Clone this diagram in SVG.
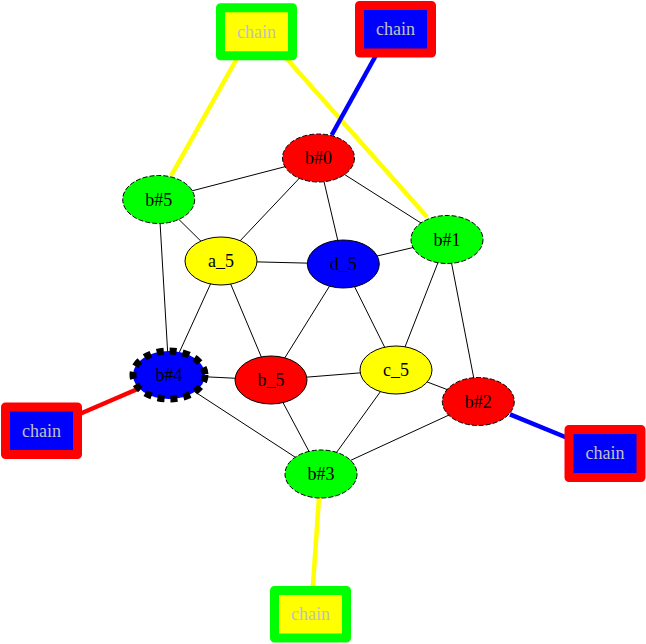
<svg xmlns="http://www.w3.org/2000/svg" width="646" height="644" viewBox="0 0 646 644">
<style>
.e{stroke:#000;stroke-width:1;fill:none}
.t{font-family:"Liberation Serif","Times New Roman",serif;font-size:18px;text-anchor:middle;fill:#000}
.ct{font-family:"Liberation Serif","Times New Roman",serif;font-size:18px;text-anchor:middle;fill:#c0c0c0}
.n{stroke:#000;stroke-width:1}
.d{stroke:#000;stroke-width:1;stroke-dasharray:5,2}
.cb{stroke-width:9;stroke-linejoin:round}
</style>
<rect width="646" height="644" fill="#fff"/>
<g id="edges">
<line class="e" x1="318.5" y1="158" x2="158.7" y2="199.5"/>
<line class="e" x1="318.5" y1="158" x2="221" y2="261"/>
<line class="e" x1="318.5" y1="158" x2="343.3" y2="264"/>
<line class="e" x1="318.5" y1="158" x2="447" y2="239.5"/>
<line class="e" x1="158.7" y1="199.5" x2="221" y2="261"/>
<line class="e" x1="158.7" y1="199.5" x2="169" y2="375"/>
<line class="e" x1="221" y1="261" x2="343.3" y2="264"/>
<line class="e" x1="221" y1="261" x2="169" y2="375"/>
<line class="e" x1="221" y1="261" x2="271" y2="380"/>
<line class="e" x1="343.3" y1="264" x2="447" y2="239.5"/>
<line class="e" x1="343.3" y1="264" x2="271" y2="380"/>
<line class="e" x1="343.3" y1="264" x2="396" y2="370"/>
<line class="e" x1="447" y1="239.5" x2="396" y2="370"/>
<line class="e" x1="447" y1="239.5" x2="478.3" y2="401.5"/>
<line class="e" x1="169" y1="375" x2="271" y2="380"/>
<line class="e" x1="169" y1="375" x2="321" y2="474"/>
<line class="e" x1="271" y1="380" x2="396" y2="370"/>
<line class="e" x1="271" y1="380" x2="321" y2="474"/>
<line class="e" x1="396" y1="370" x2="321" y2="474"/>
<line class="e" x1="396" y1="370" x2="478.3" y2="401.5"/>
<line class="e" x1="478.3" y1="401.5" x2="321" y2="474"/>
<line x1="241.7" y1="50" x2="171" y2="176" stroke="#ffff00" stroke-width="4.5"/>
<line x1="279" y1="50" x2="427.3" y2="217.3" stroke="#ffff00" stroke-width="4.5"/>
<line x1="380" y1="48" x2="331.7" y2="135" stroke="#0000ff" stroke-width="4.5"/>
<line x1="75" y1="416" x2="139.3" y2="388.3" stroke="#ff0000" stroke-width="4.5"/>
<line x1="510" y1="414.3" x2="575" y2="441" stroke="#0000ff" stroke-width="4.5"/>
<line x1="319" y1="497.7" x2="312.3" y2="595" stroke="#ffff00" stroke-width="4.5"/>
</g>
<g id="chain_tl">
<rect class="cb" x="220.5" y="7.8" width="72" height="48" fill="#ffff00" stroke="#00ff00"/>
<text class="ct" x="256.5" y="37.5">chain</text>
</g>
<g id="chain_tr">
<rect class="cb" x="359.5" y="5.5" width="72" height="47.5" fill="#0000ff" stroke="#ff0000"/>
<text class="ct" x="395.5" y="35">chain</text>
</g>
<g id="chain_l">
<rect class="cb" x="5.5" y="407" width="72" height="47.5" fill="#0000ff" stroke="#ff0000"/>
<text class="ct" x="41.5" y="436.5">chain</text>
</g>
<g id="chain_r">
<rect class="cb" x="569" y="429.5" width="72" height="48" fill="#0000ff" stroke="#ff0000"/>
<text class="ct" x="605" y="459">chain</text>
</g>
<g id="chain_b">
<rect class="cb" x="274.5" y="590.5" width="72" height="47.5" fill="#ffff00" stroke="#00ff00"/>
<text class="ct" x="310.5" y="620">chain</text>
</g>
<g id="b0">
<ellipse class="d" cx="318.5" cy="158" rx="36" ry="24" fill="#ff0000"/>
<text class="t" x="318.5" y="164">b#0</text>
</g>
<g id="b5">
<ellipse class="d" cx="158.7" cy="199.5" rx="36" ry="24" fill="#00ff00"/>
<text class="t" x="158.7" y="205.5">b#5</text>
</g>
<g id="a5">
<ellipse class="n" cx="221" cy="261" rx="36" ry="24" fill="#ffff00"/>
<text class="t" x="221" y="267">a_5</text>
</g>
<g id="d5">
<ellipse class="n" cx="343.3" cy="264" rx="36" ry="24" fill="#0000ff"/>
<text class="t" x="343.3" y="270">d_5</text>
</g>
<g id="b1">
<ellipse class="d" cx="447" cy="239.5" rx="36" ry="24" fill="#00ff00"/>
<text class="t" x="447" y="245.5">b#1</text>
</g>
<g id="c5">
<ellipse class="n" cx="396" cy="370" rx="36" ry="24" fill="#ffff00"/>
<text class="t" x="396" y="376">c_5</text>
</g>
<g id="b2">
<ellipse class="d" cx="478.3" cy="401.5" rx="36" ry="24" fill="#ff0000"/>
<text class="t" x="478.3" y="407.5">b#2</text>
</g>
<g id="b4">
<ellipse cx="169" cy="375" rx="36" ry="24" fill="#0000ff" stroke="#000" stroke-width="7" stroke-dasharray="7,6"/>
<text class="t" x="169" y="381">b#4</text>
</g>
<g id="b_5">
<ellipse class="n" cx="271" cy="380" rx="36" ry="24" fill="#ff0000"/>
<text class="t" x="271" y="386">b_5</text>
</g>
<g id="b3">
<ellipse class="d" cx="321" cy="474" rx="36" ry="24" fill="#00ff00"/>
<text class="t" x="321" y="480">b#3</text>
</g>
</svg>
